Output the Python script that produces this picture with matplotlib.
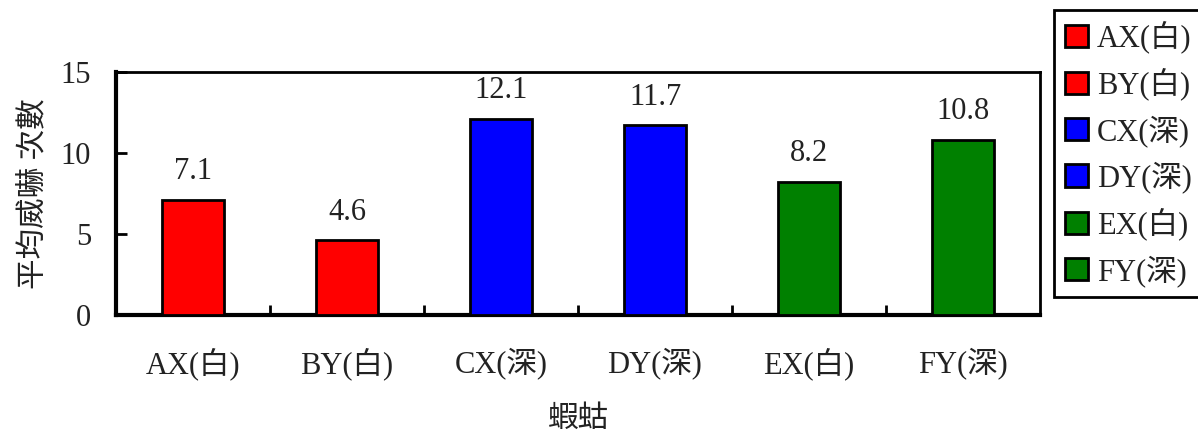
import matplotlib
matplotlib.use("Agg")
import matplotlib.pyplot as plt
from matplotlib.patches import Patch

plt.rcParams['font.family'] = ['Liberation Serif', 'Noto Sans CJK TC', 'DejaVu Sans']

categories = ["AX(白)", "BY(白)", "CX(深)", "DY(深)", "EX(白)", "FY(深)"]
values = [7.1, 4.6, 12.1, 11.7, 8.2, 10.8]
colors = ["#ff0000", "#ff0000", "#0000ff", "#0000ff", "#008000", "#008000"]
yticks = [0, 5, 10, 15]
xlabel = "蝦蛄"
ylabel = "平均威嚇 次數"

W, H = 1198, 434
fig = plt.figure(figsize=(W / 100, H / 100), dpi=100)
ax = fig.add_axes([116 / W, 1 - 315 / H, (1040 - 116) / W, (315 - 72) / H])

TXT = "#222222"
x = list(range(len(categories)))
ax.bar(x, values, width=0.4, color=colors, edgecolor="black", linewidth=2, zorder=3)
for xi, v in zip(x, values):
    ax.text(xi, v + 0.85, f"{v}", ha="center", va="bottom", fontsize=22, color=TXT)

ax.set_xlim(-0.5, len(categories) - 0.5)
ax.set_ylim(0, 15)
ax.set_yticks(yticks)
ax.set_xticks(x)
ax.set_xticklabels(categories)
ax.set_xticks([i + 0.5 for i in x[:-1]], minor=True)
ax.tick_params(axis="x", which="major", length=0, pad=23, labelsize=22, labelcolor=TXT)
ax.tick_params(axis="x", which="minor", direction="in", length=7, width=2)
ax.tick_params(axis="y", direction="in", length=8, width=2, pad=18, labelsize=22, labelcolor=TXT)

for s in ["left", "bottom"]:
    ax.spines[s].set_linewidth(3)
for s in ["top", "right"]:
    ax.spines[s].set_linewidth(2)

ax.set_xlabel(xlabel, fontsize=22, labelpad=18, color=TXT)
ax.set_ylabel(ylabel, fontsize=22, labelpad=8, color=TXT)

handles = [Patch(facecolor=c, edgecolor="black", linewidth=2) for c in colors]
leg = fig.legend(handles, categories, loc="upper left",
                 bbox_to_anchor=(1054 / W, 1 - 10 / H), fontsize=22,
                 frameon=True, fancybox=False, edgecolor="black", framealpha=1,
                 handlelength=0.75, handleheight=0.75, handletextpad=0.3,
                 labelspacing=0.47, borderpad=0.35, borderaxespad=0)
for t in leg.get_texts():
    t.set_color(TXT)
leg.get_frame().set_linewidth(2)

fig.savefig("out.png", dpi=100)
